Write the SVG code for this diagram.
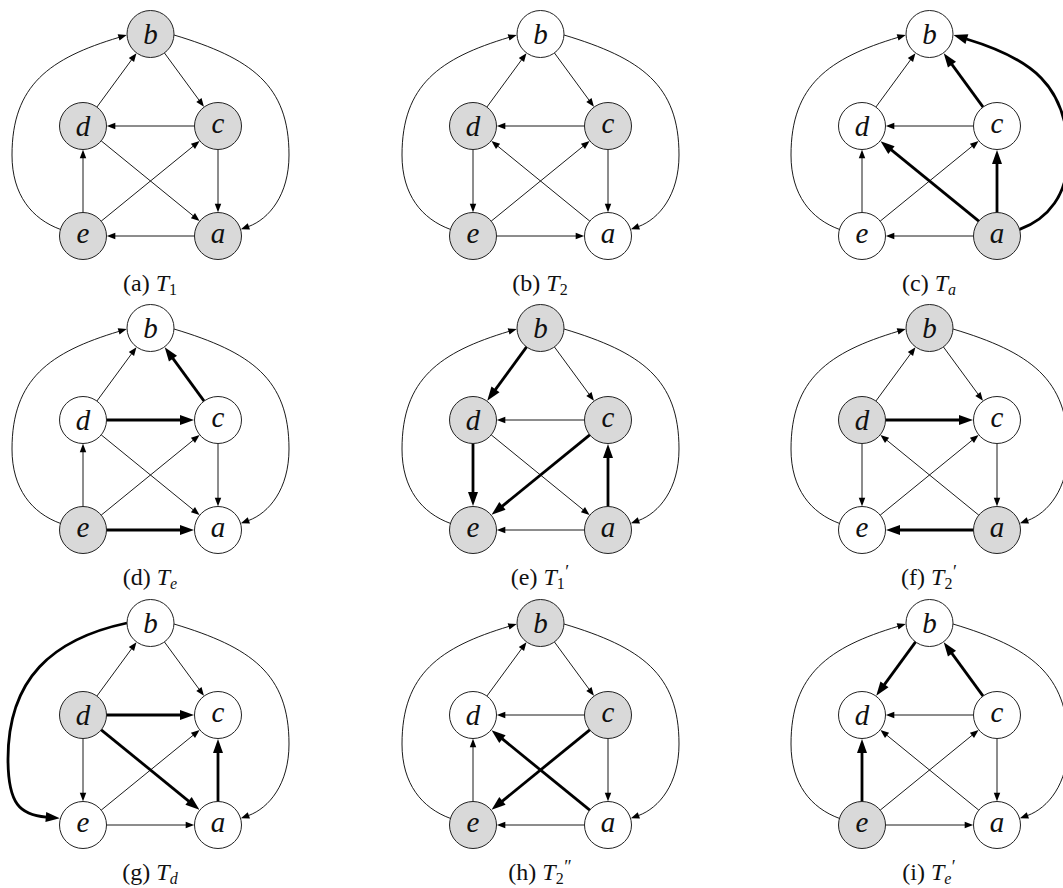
<svg xmlns="http://www.w3.org/2000/svg" width="1063" height="888" viewBox="0 0 1063 888">
<defs>
<marker id="ah" markerUnits="userSpaceOnUse" markerWidth="9" markerHeight="7" refX="0.3" refY="3.25" orient="auto" overflow="visible"><path d="M0,0 L8.5,3.25 L0,6.5 z" fill="#000"/></marker>
<marker id="AH" markerUnits="userSpaceOnUse" markerWidth="14" markerHeight="10" refX="0.5" refY="5" orient="auto" overflow="visible"><path d="M0,0 L14,5 L0,10 z" fill="#000"/></marker>
</defs>
<style>
.t{stroke:#000;stroke-width:0.9;fill:none;marker-end:url(#ah)}
.k{stroke:#000;stroke-width:2.8;fill:none;marker-end:url(#AH)}
.n circle{stroke:#222;stroke-width:1;fill:#fff}
.n.g circle{fill:#d9d9d9}
.n text{font-family:"Liberation Serif",serif;font-style:italic;font-size:29px;text-anchor:middle;fill:#111}
.cap{font-family:"Liberation Serif",serif;font-size:24px;text-anchor:middle;fill:#111}
.it{font-style:italic}
.sb{font-size:16px}
.pr{font-size:18px}
</style>
<rect width="1063" height="888" fill="#fff"/>

<!-- (a) T1 -->
<g id="pa">
<g id="pa-edges">
<path class="t" d="M96.9,107.05 L131.6,59.75"/>
<path class="t" d="M164.4,52.9 L199.1,100.2"/>
<path class="t" d="M194.5,126 L115,126"/>
<path class="t" d="M83,212.5 L83,158"/>
<path class="t" d="M218,149.5 L218,204"/>
<path class="t" d="M194.5,236 L115,236"/>
<path class="t" d="M101.2,140.85 L193.2,215.8"/>
<path class="t" d="M101.2,221.15 L193.2,146.2"/>
<path class="t" d="M60.4,229.4 C32,219 12,195 12,155 C12,85 49.7,58.2 118.9,37.4"/>
<path class="t" d="M174,35 C251.3,58.2 289,85 289,155 C289,195 269,219 248.6,226.5"/>
</g>
<g id="pa-b" class="n g"><circle cx="150.5" cy="34" r="23.5"/><text x="150.5" y="43.8">b</text></g>
<g id="pa-d" class="n g"><circle cx="83" cy="126" r="23.5"/><text x="83" y="135.8">d</text></g>
<g id="pa-c" class="n g"><circle cx="218" cy="126" r="23.5"/><text x="218" y="132.7">c</text></g>
<g id="pa-e" class="n g"><circle cx="83" cy="236" r="23.5"/><text x="83" y="242.7">e</text></g>
<g id="pa-a" class="n g"><circle cx="218" cy="236" r="23.5"/><text x="218" y="242.7">a</text></g>
<text class="cap" x="150" y="291">(a) <tspan class="it">T</tspan><tspan class="sb" dy="4">1</tspan></text>
</g>

<!-- (b) T2 -->
<g id="pb" transform="translate(390,0)">
<g id="pb-edges">
<path class="t" d="M96.9,107.05 L131.6,59.75"/>
<path class="t" d="M164.4,52.9 L199.1,100.2"/>
<path class="t" d="M194.5,126 L115,126"/>
<path class="t" d="M83,149.5 L83,204"/>
<path class="t" d="M218,149.5 L218,204"/>
<path class="t" d="M106.5,236 L186,236"/>
<path class="t" d="M199.8,221.15 L107.8,146.2"/>
<path class="t" d="M101.2,221.15 L193.2,146.2"/>
<path class="t" d="M60.4,229.4 C32,219 12,195 12,155 C12,85 49.7,58.2 118.9,37.4"/>
<path class="t" d="M174,35 C251.3,58.2 289,85 289,155 C289,195 269,219 248.6,226.5"/>
</g>
<g id="pb-b" class="n"><circle cx="150.5" cy="34" r="23.5"/><text x="150.5" y="43.8">b</text></g>
<g id="pb-d" class="n g"><circle cx="83" cy="126" r="23.5"/><text x="83" y="135.8">d</text></g>
<g id="pb-c" class="n g"><circle cx="218" cy="126" r="23.5"/><text x="218" y="132.7">c</text></g>
<g id="pb-e" class="n g"><circle cx="83" cy="236" r="23.5"/><text x="83" y="242.7">e</text></g>
<g id="pb-a" class="n"><circle cx="218" cy="236" r="23.5"/><text x="218" y="242.7">a</text></g>
<text class="cap" x="150" y="291">(b) <tspan class="it">T</tspan><tspan class="sb" dy="4">2</tspan></text>
</g>

<!-- (c) Ta -->
<g id="pc" transform="translate(779,0)">
<g id="pc-edges">
<path class="t" d="M96.9,107.05 L131.6,59.75"/>
<path class="k" d="M204.1,107.05 L172.7,64.2"/>
<path class="t" d="M194.5,126 L115,126"/>
<path class="t" d="M83,212.5 L83,158"/>
<path class="k" d="M218,212.5 L218,163.5"/>
<path class="t" d="M194.5,236 L115,236"/>
<path class="k" d="M199.8,221.15 L112.05,149.7"/>
<path class="t" d="M101.2,221.15 L193.2,146.2"/>
<path class="t" d="M60.4,229.4 C32,219 12,195 12,155 C12,85 49.7,58.2 118.9,37.4"/>
<path class="k" d="M240.6,229.4 C269,219 289,195 289,155 C289,85 251.3,58.2 187.4,39"/>
</g>
<g id="pc-b" class="n"><circle cx="150.5" cy="34" r="23.5"/><text x="150.5" y="43.8">b</text></g>
<g id="pc-d" class="n"><circle cx="83" cy="126" r="23.5"/><text x="83" y="135.8">d</text></g>
<g id="pc-c" class="n"><circle cx="218" cy="126" r="23.5"/><text x="218" y="132.7">c</text></g>
<g id="pc-e" class="n"><circle cx="83" cy="236" r="23.5"/><text x="83" y="242.7">e</text></g>
<g id="pc-a" class="n g"><circle cx="218" cy="236" r="23.5"/><text x="218" y="242.7">a</text></g>
<text class="cap" x="150" y="291">(c) <tspan class="it">T</tspan><tspan class="sb it" dy="4">a</tspan></text>
</g>

<!-- (d) Te -->
<g id="pd" transform="translate(0,294)">
<g id="pd-edges">
<path class="t" d="M96.9,107.05 L131.6,59.75"/>
<path class="k" d="M204.1,107.05 L172.7,64.2"/>
<path class="k" d="M106.5,126 L180.5,126"/>
<path class="t" d="M83,212.5 L83,158"/>
<path class="t" d="M218,149.5 L218,204"/>
<path class="k" d="M106.5,236 L180.5,236"/>
<path class="t" d="M101.2,140.85 L193.2,215.8"/>
<path class="t" d="M101.2,221.15 L193.2,146.2"/>
<path class="t" d="M60.4,229.4 C32,219 12,195 12,155 C12,85 49.7,58.2 118.9,37.4"/>
<path class="t" d="M174,35 C251.3,58.2 289,85 289,155 C289,195 269,219 248.6,226.5"/>
</g>
<g id="pd-b" class="n"><circle cx="150.5" cy="34" r="23.5"/><text x="150.5" y="43.8">b</text></g>
<g id="pd-d" class="n"><circle cx="83" cy="126" r="23.5"/><text x="83" y="135.8">d</text></g>
<g id="pd-c" class="n"><circle cx="218" cy="126" r="23.5"/><text x="218" y="132.7">c</text></g>
<g id="pd-e" class="n g"><circle cx="83" cy="236" r="23.5"/><text x="83" y="242.7">e</text></g>
<g id="pd-a" class="n"><circle cx="218" cy="236" r="23.5"/><text x="218" y="242.7">a</text></g>
<text class="cap" x="150" y="291">(d) <tspan class="it">T</tspan><tspan class="sb it" dy="4">e</tspan></text>
</g>

<!-- (e) T1' -->
<g id="pe" transform="translate(390,294)">
<g id="pe-edges">
<path class="k" d="M136.6,52.9 L105.2,95.8"/>
<path class="t" d="M164.4,52.9 L199.1,100.2"/>
<path class="t" d="M194.5,126 L115,126"/>
<path class="k" d="M83,149.5 L83,198.5"/>
<path class="k" d="M218,212.5 L218,163.5"/>
<path class="t" d="M194.5,236 L115,236"/>
<path class="t" d="M101.2,140.85 L193.2,215.8"/>
<path class="k" d="M199.8,140.85 L112.05,212.3"/>
<path class="t" d="M60.4,229.4 C32,219 12,195 12,155 C12,85 49.7,58.2 118.9,37.4"/>
<path class="t" d="M174,35 C251.3,58.2 289,85 289,155 C289,195 269,219 248.6,226.5"/>
</g>
<g id="pe-b" class="n g"><circle cx="150.5" cy="34" r="23.5"/><text x="150.5" y="43.8">b</text></g>
<g id="pe-d" class="n g"><circle cx="83" cy="126" r="23.5"/><text x="83" y="135.8">d</text></g>
<g id="pe-c" class="n g"><circle cx="218" cy="126" r="23.5"/><text x="218" y="132.7">c</text></g>
<g id="pe-e" class="n g"><circle cx="83" cy="236" r="23.5"/><text x="83" y="242.7">e</text></g>
<g id="pe-a" class="n g"><circle cx="218" cy="236" r="23.5"/><text x="218" y="242.7">a</text></g>
<text class="cap" x="150" y="291">(e) <tspan class="it">T</tspan><tspan class="sb" dy="4">1</tspan><tspan class="pr" dx="0.5" dy="-11">′</tspan></text>
</g>

<!-- (f) T2' -->
<g id="pf" transform="translate(779,294)">
<g id="pf-edges">
<path class="t" d="M96.9,107.05 L131.6,59.75"/>
<path class="t" d="M164.4,52.9 L199.1,100.2"/>
<path class="k" d="M106.5,126 L180.5,126"/>
<path class="t" d="M83,149.5 L83,204"/>
<path class="t" d="M218,149.5 L218,204"/>
<path class="k" d="M194.5,236 L120.5,236"/>
<path class="t" d="M199.8,221.15 L107.8,146.2"/>
<path class="t" d="M101.2,221.15 L193.2,146.2"/>
<path class="t" d="M60.4,229.4 C32,219 12,195 12,155 C12,85 49.7,58.2 118.9,37.4"/>
<path class="t" d="M174,35 C251.3,58.2 289,85 289,155 C289,195 269,219 248.6,226.5"/>
</g>
<g id="pf-b" class="n g"><circle cx="150.5" cy="34" r="23.5"/><text x="150.5" y="43.8">b</text></g>
<g id="pf-d" class="n g"><circle cx="83" cy="126" r="23.5"/><text x="83" y="135.8">d</text></g>
<g id="pf-c" class="n"><circle cx="218" cy="126" r="23.5"/><text x="218" y="132.7">c</text></g>
<g id="pf-e" class="n"><circle cx="83" cy="236" r="23.5"/><text x="83" y="242.7">e</text></g>
<g id="pf-a" class="n g"><circle cx="218" cy="236" r="23.5"/><text x="218" y="242.7">a</text></g>
<text class="cap" x="150" y="291">(f) <tspan class="it">T</tspan><tspan class="sb" dy="4">2</tspan><tspan class="pr" dx="0.5" dy="-11">′</tspan></text>
</g>

<!-- (g) Td -->
<g id="pg" transform="translate(0,589)">
<g id="pg-edges">
<path class="t" d="M96.9,107.05 L131.6,59.75"/>
<path class="t" d="M164.4,52.9 L199.1,100.2"/>
<path class="k" d="M106.5,126 L180.5,126"/>
<path class="t" d="M83,149.5 L83,204"/>
<path class="k" d="M218,212.5 L218,163.5"/>
<path class="t" d="M106.5,236 L186,236"/>
<path class="k" d="M101.2,140.85 L188.95,212.3"/>
<path class="t" d="M101.2,221.15 L193.2,146.2"/>
<path class="k" d="M127,34 C52,50 8,90 8,170 C8,215 20,226 46.3,228.1"/>
<path class="t" d="M174,35 C251.3,58.2 289,85 289,155 C289,195 269,219 248.6,226.5"/>
</g>
<g id="pg-b" class="n"><circle cx="150.5" cy="34" r="23.5"/><text x="150.5" y="43.8">b</text></g>
<g id="pg-d" class="n g"><circle cx="83" cy="126" r="23.5"/><text x="83" y="135.8">d</text></g>
<g id="pg-c" class="n"><circle cx="218" cy="126" r="23.5"/><text x="218" y="132.7">c</text></g>
<g id="pg-e" class="n"><circle cx="83" cy="236" r="23.5"/><text x="83" y="242.7">e</text></g>
<g id="pg-a" class="n"><circle cx="218" cy="236" r="23.5"/><text x="218" y="242.7">a</text></g>
<text class="cap" x="150" y="291">(g) <tspan class="it">T</tspan><tspan class="sb it" dy="4">d</tspan></text>
</g>

<!-- (h) T2'' -->
<g id="ph" transform="translate(390,589)">
<g id="ph-edges">
<path class="t" d="M96.9,107.05 L131.6,59.75"/>
<path class="t" d="M164.4,52.9 L199.1,100.2"/>
<path class="t" d="M194.5,126 L115,126"/>
<path class="t" d="M83,212.5 L83,158"/>
<path class="t" d="M218,149.5 L218,204"/>
<path class="t" d="M194.5,236 L115,236"/>
<path class="k" d="M199.8,221.15 L112.05,149.7"/>
<path class="k" d="M199.8,140.85 L112.05,212.3"/>
<path class="t" d="M60.4,229.4 C32,219 12,195 12,155 C12,85 49.7,58.2 118.9,37.4"/>
<path class="t" d="M174,35 C251.3,58.2 289,85 289,155 C289,195 269,219 248.6,226.5"/>
</g>
<g id="ph-b" class="n g"><circle cx="150.5" cy="34" r="23.5"/><text x="150.5" y="43.8">b</text></g>
<g id="ph-d" class="n"><circle cx="83" cy="126" r="23.5"/><text x="83" y="135.8">d</text></g>
<g id="ph-c" class="n g"><circle cx="218" cy="126" r="23.5"/><text x="218" y="132.7">c</text></g>
<g id="ph-e" class="n g"><circle cx="83" cy="236" r="23.5"/><text x="83" y="242.7">e</text></g>
<g id="ph-a" class="n"><circle cx="218" cy="236" r="23.5"/><text x="218" y="242.7">a</text></g>
<text class="cap" x="150" y="291">(h) <tspan class="it">T</tspan><tspan class="sb" dy="4">2</tspan><tspan class="pr" dx="0.5" dy="-11">″</tspan></text>
</g>

<!-- (i) Te' -->
<g id="pi" transform="translate(779,589)">
<g id="pi-edges">
<path class="k" d="M136.6,52.9 L105.2,95.8"/>
<path class="k" d="M204.1,107.05 L172.7,64.2"/>
<path class="t" d="M194.5,126 L115,126"/>
<path class="k" d="M83,212.5 L83,163.5"/>
<path class="t" d="M218,149.5 L218,204"/>
<path class="t" d="M106.5,236 L186,236"/>
<path class="t" d="M199.8,221.15 L107.8,146.2"/>
<path class="t" d="M101.2,221.15 L193.2,146.2"/>
<path class="t" d="M60.4,229.4 C32,219 12,195 12,155 C12,85 49.7,58.2 118.9,37.4"/>
<path class="t" d="M174,35 C251.3,58.2 289,85 289,155 C289,195 269,219 248.6,226.5"/>
</g>
<g id="pi-b" class="n"><circle cx="150.5" cy="34" r="23.5"/><text x="150.5" y="43.8">b</text></g>
<g id="pi-d" class="n"><circle cx="83" cy="126" r="23.5"/><text x="83" y="135.8">d</text></g>
<g id="pi-c" class="n"><circle cx="218" cy="126" r="23.5"/><text x="218" y="132.7">c</text></g>
<g id="pi-e" class="n g"><circle cx="83" cy="236" r="23.5"/><text x="83" y="242.7">e</text></g>
<g id="pi-a" class="n"><circle cx="218" cy="236" r="23.5"/><text x="218" y="242.7">a</text></g>
<text class="cap" x="150" y="291">(i) <tspan class="it">T</tspan><tspan class="sb it" dy="4">e</tspan><tspan class="pr" dx="0.5" dy="-11">′</tspan></text>
</g>
</svg>
